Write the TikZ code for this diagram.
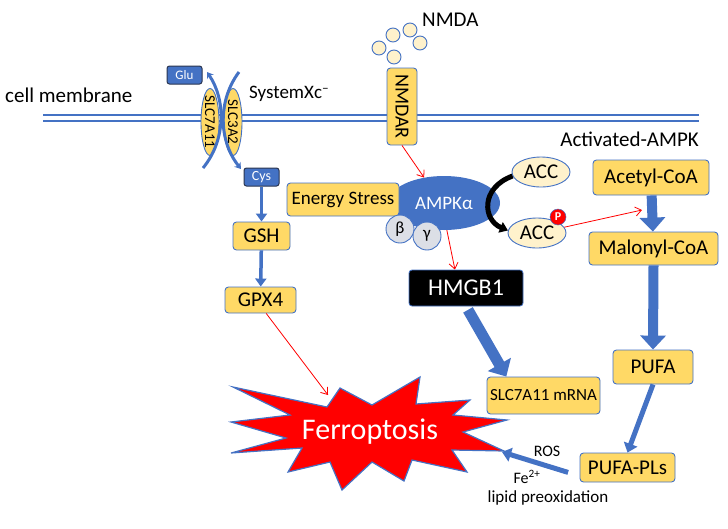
\documentclass[tikz,border=0pt]{standalone}
\usepackage{fontspec}
\setmainfont{Carlito}
\usetikzlibrary{arrows.meta,shapes.geometric}
\definecolor{bl}{HTML}{4472C4}
\definecolor{yl}{HTML}{FFD966}
\definecolor{lyl}{HTML}{FFF2CC}
\definecolor{gbeta}{HTML}{DCDFE6}
\definecolor{dkb}{HTML}{2A3550}
\newcommand\fsz[1]{\fontsize{#1}{#1}\selectfont}
\tikzset{
  ybox/.style={draw=bl, fill=yl, line width=0.9pt, rounded corners=3.5pt, inner sep=0pt, align=center},
  bbox/.style={draw=dkb, fill=bl, line width=1pt, rounded corners=2.5pt, inner sep=0pt, text=white},
  lell/.style={ellipse, draw=bl, fill=lyl, line width=0.9pt, inner sep=0pt},
  redarr/.style={draw=red, line width=0.8pt, -{Straight Barb[length=6pt,width=9pt]}},
  thinblue/.style={draw=bl, line width=3.5pt, -{Triangle[length=8pt,width=11pt]}},
  fatblue/.style={draw=bl, line width=10pt, -{Triangle[length=14pt,width=25pt]}},
  midblue/.style={draw=bl, line width=5pt, -{Triangle[length=9pt,width=14pt]}},
}
\begin{document}
\begin{tikzpicture}[x=1pt,y=-1pt]
\useasboundingbox (0,0) rectangle (728,528);
% membrane
\draw[bl, line width=1.3pt] (43,115) -- (699,115);
\draw[bl, line width=1.3pt] (43,121) -- (699,121);
\node[anchor=west, inner sep=0pt] (cm) at (5,95) {\fsz{21}cell membrane};
\node[anchor=west, inner sep=0pt] (sx) at (249,94) {\fsz{19}SystemXc\textsuperscript{--}};
\node[anchor=west, inner sep=0pt] (nmda) at (422,20) {\fsz{21}NMDA};
\node[anchor=east, inner sep=0pt] (act) at (699,139) {\fsz{21}Activated-AMPK};
% transporter
\node[ellipse, draw=bl, fill=yl, line width=0.9pt, minimum width=18pt, minimum height=67pt, inner sep=0pt] (slc7) at (210,122) {};
\node[rotate=-90] at (slc7) {\fsz{15}SLC7A11};
\node[ellipse, draw=bl, fill=yl, line width=0.9pt, minimum width=18pt, minimum height=67pt, inner sep=0pt] (slc3) at (233,122) {};
\node[rotate=-90] at (slc3) {\fsz{15}SLC3A2};
\node[bbox, minimum width=35pt, minimum height=18pt] (glu) at (184.5,75) {\fsz{13}Glu};
\node[bbox, minimum width=35pt, minimum height=18pt] (cys) at (261.5,177) {\fsz{14}Cys};
\coordinate (lb) at (203,168);
\coordinate (lt) at (207,72);
\coordinate (rt) at (239,72);
\coordinate (rb) at (241,169);
\draw[bl, line width=3pt, -{Stealth[length=6pt,width=8pt]}] (lb) .. controls (226,140) and (226,100) .. (lt);
\draw[bl, line width=3pt, -{Stealth[length=6pt,width=8pt]}] (rt) .. controls (218,100) and (218,140) .. (rb);
% GSH pathway
\node[ybox, minimum width=57pt, minimum height=28pt] (gsh) at (261.5,236) {\fsz{21}GSH};
\node[ybox, minimum width=71pt, minimum height=26pt] (gpx) at (260.5,300) {\fsz{21}GPX4};
\draw[thinblue] (cys) -- (gsh);
\draw[thinblue] (gsh) -- (gpx);
% NMDA
\foreach \i/\p in {1/{(379,48)},2/{(393,35)},3/{(410,30)},4/{(420,43)},5/{(394,57)}}
  \node[circle, draw=bl, fill=lyl, line width=0.9pt, minimum size=14pt, inner sep=0pt] (n\i) at \p {};
\node[ybox, minimum width=30pt, minimum height=77pt] (nmdar) at (402,106.5) {};
\node[rotate=-90] at (nmdar) {\fsz{20}NMDAR};
% AMPK
\node[ellipse, fill=bl, minimum width=112pt, minimum height=54pt, inner sep=0pt, text=white] (ampk) at (444,203) {\fsz{19}AMPKα};
\node[ybox, minimum width=112pt, minimum height=33pt] (es) at (343,199.5) {\fsz{19}Energy Stress};
\node[circle, draw=bl, fill=gbeta, line width=0.9pt, minimum size=28pt, inner sep=0pt] (beta) at (400,229) {\fsz{17}β};
\node[circle, draw=bl, fill=gbeta, line width=0.9pt, minimum size=28pt, inner sep=0pt] (gam) at (427,236) {\fsz{17}γ};
\draw[redarr] (nmdar.south) -- (ampk.128);
% ACC
\node[lell, minimum width=58pt, minimum height=30pt] (acct) at (541,172) {\fsz{21}ACC};
\node[lell, minimum width=58pt, minimum height=30pt] (accb) at (537,233) {\fsz{21}ACC};
\node[circle, fill=red, draw=bl, line width=0.5pt, minimum size=16pt, inner sep=0pt, text=white] (pp) at (558,217) {\fsz{12}\textbf{P}};
\draw[black, line width=5pt, -{Triangle[length=8pt,width=11pt]}] (acct.188) .. controls (480,188) and (483,220) .. (accb.175);
% HMGB1
\node[fill=black, draw=bl, line width=0.8pt, rounded corners=3pt, minimum width=114pt, minimum height=36pt, text=white, inner sep=0pt] (hmgb) at (466,288) {\fsz{24}HMGB1};
\draw[redarr] (ampk.-84) -- (hmgb.121);
\node[ybox, minimum width=113pt, minimum height=37pt] (mrna) at (543.5,395.5) {\fsz{17}SLC7A11 mRNA};
\draw[draw=bl, line width=11pt, -{Triangle[length=14pt,width=26pt]}, shorten <=4pt] (hmgb.south) -- (mrna.153);
% lipid pathway
\node[ybox, minimum width=116pt, minimum height=35pt] (acet) at (651,177.5) {\fsz{21}Acetyl-CoA};
\node[ybox, minimum width=129pt, minimum height=33pt] (malo) at (653.5,248.5) {\fsz{21}Malonyl-CoA};
\node[ybox, minimum width=80pt, minimum height=34pt] (pufa) at (653,367) {\fsz{21}PUFA};
\node[ybox, minimum width=95pt, minimum height=29pt] (pufapl) at (627.5,467.5) {\fsz{21}PUFA-PLs};
\draw[fatblue] (acet) -- (malo);
\draw[fatblue] (malo.south) -- (pufa.north);
\draw[midblue] (pufa.south) -- (pufapl.north);
\coordinate (accTgt) at (642,210);
\draw[redarr] (accb.12) -- (accTgt);
% Ferroptosis star
\draw[fill=red, draw=bl, line width=1.2pt, line join=miter]
  (233,387) -- (327,407) -- (340,388) -- (372,405) -- (420,377) -- (416,404)
  -- (470,400) -- (453,415) -- (507,420) -- (463,432) -- (504,451) -- (452,450)
  -- (467,472) -- (412,460) -- (404,481) -- (372,462) -- (342,490) -- (330,462)
  -- (288,472) -- (302,448) -- (231,453) -- (286,438) -- (231,422) -- (290,415) -- cycle;
\node[text=white, inner sep=0pt] (ferro) at (370,432) {\fsz{30}Ferroptosis};
\coordinate (ferTop) at (328,395);
\coordinate (ferRight) at (502,452);
\draw[redarr] (gpx.-67) -- (ferTop);
\draw[midblue, shorten <=12pt] (pufapl.190) -- (ferRight);
\node[inner sep=0pt] (ros) at (547,451) {\fsz{16}ROS};
\node[inner sep=0pt] (fe) at (527,477) {\fsz{16}Fe\textsuperscript{2+}};
\node[inner sep=0pt] (lp) at (548,498) {\fsz{17}lipid preoxidation};
\end{tikzpicture}
\end{document}
